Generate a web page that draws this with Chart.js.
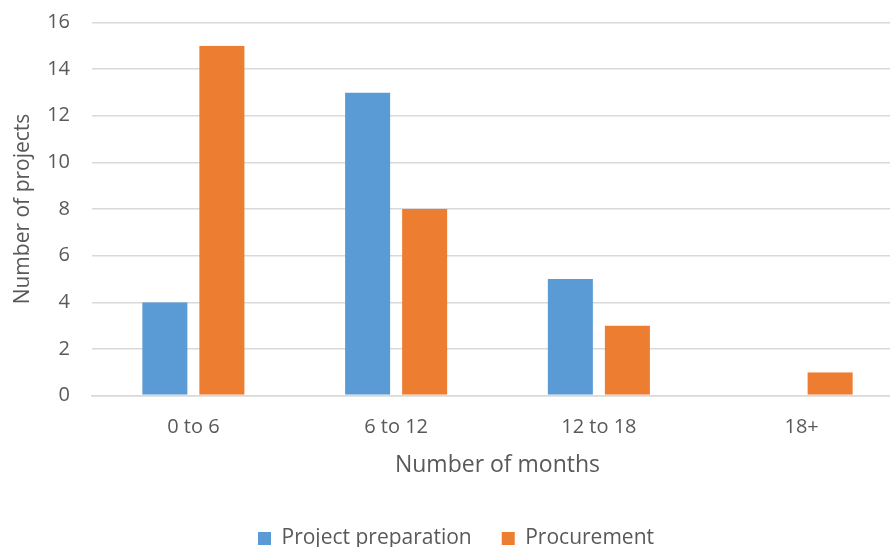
<!DOCTYPE html>
<html>
<head>
<meta charset="utf-8">
<script src="https://cdn.jsdelivr.net/npm/chart.js@4.4.1/dist/chart.umd.min.js"></script>
<style>
  html, body { margin: 0; padding: 0; background: #ffffff; overflow: hidden; }
  #wrap { position: absolute; left: 0; top: 0; width: 903px; height: 563px; }
</style>
</head>
<body>
<div id="wrap"><canvas id="chart" width="903" height="563"></canvas></div>
<script>
// Duration bands (months) and project counts per phase
const categories = ['0 to 6', '6 to 12', '12 to 18', '18+'];
const projectPreparation = [4, 13, 5, 0];
const procurement = [15, 8, 3, 1];
const yTicks = [0, 2, 4, 6, 8, 10, 12, 14, 16];

const FONT = '"Open Sans", "Liberation Sans", sans-serif';
const TEXT = '#595959';
const GRID = '#d9d9d9';

// transparent side borders leave a small gap between the two bars of a group
const sideGap = { left: 6, right: 6, top: 0, bottom: 0 };

new Chart(document.getElementById('chart'), {
  type: 'bar',
  data: {
    labels: categories,
    datasets: [
      {
        label: 'Project preparation',
        data: projectPreparation,
        backgroundColor: '#5b9bd5',
        borderColor: 'rgba(0,0,0,0)',
        borderWidth: sideGap,
        borderSkipped: false
      },
      {
        label: 'Procurement',
        data: procurement,
        backgroundColor: '#ed7d31',
        borderColor: 'rgba(0,0,0,0)',
        borderWidth: sideGap,
        borderSkipped: false
      }
    ]
  },
  options: {
    responsive: false,
    animation: false,
    layout: { padding: { top: 22.5, left: 9, right: 0, bottom: 4 } },
    datasets: {
      bar: { categoryPercentage: 0.5625, barPercentage: 1.0 }
    },
    plugins: {
      tooltip: { enabled: false },
      legend: {
        position: 'bottom',
        labels: {
          color: TEXT,
          font: { family: FONT, size: 21 },
          boxWidth: 13,
          boxHeight: 13,
          padding: 30
        }
      }
    },
    scales: {
      x: {
        grid: { display: false, drawTicks: false },
        border: { display: true, color: GRID, width: 1.5 },
        ticks: { color: TEXT, font: { family: FONT, size: 20 }, padding: 19.5 },
        title: {
          display: true,
          text: 'Number of months',
          color: TEXT,
          font: { family: FONT, size: 23 },
          padding: { top: 0, bottom: 18.7 }
        },
        afterFit(scale) {
          scale.height = 102.5;
          scale.paddingLeft = 0;
          scale.paddingRight = 0;
        }
      },
      y: {
        min: 0,
        max: 16,
        afterBuildTicks(scale) { scale.ticks = yTicks.map(v => ({ value: v })); },
        grid: { color: GRID, lineWidth: 1.5, drawTicks: false },
        border: { display: false },
        ticks: { color: TEXT, font: { family: FONT, size: 20 }, padding: 22 },
        title: {
          display: true,
          text: 'Number of projects',
          color: TEXT,
          font: { family: FONT, size: 21 },
          padding: { top: 1, bottom: 0 }
        },
        afterFit(scale) {
          scale.width = 83;
          scale.paddingTop = 0;
          scale.paddingBottom = 0;
        }
      }
    }
  }
});
</script>
</body>
</html>
